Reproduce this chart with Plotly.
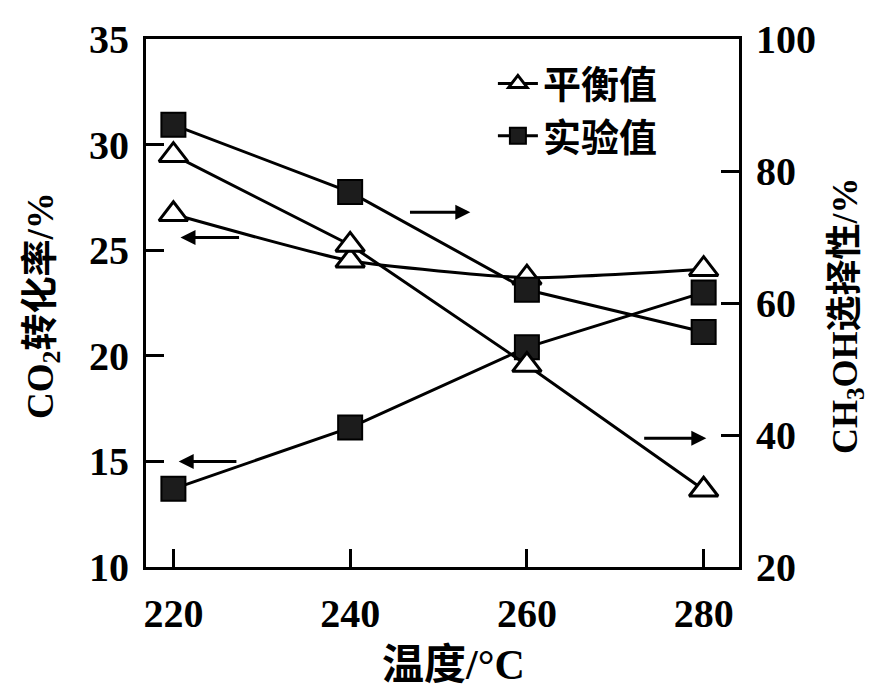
import plotly.graph_objects as go

# Reaction temperature (°C)
temps = [220, 240, 260, 280]

# CO2 conversion (%), left axis
eq_conv = [26.7, 24.5, 23.7, 24.1]
exp_conv = [13.7, 16.6, 20.4, 23.0]

# CH3OH selectivity (%), right axis
eq_sel = [82.4, 68.8, 50.6, 31.7]
exp_sel = [87.0, 76.8, 62.0, 55.6]

legend_eq = "平衡值"
legend_exp = "实验值"

x_ticks = [220, 240, 260, 280]
left_ticks = [10, 15, 20, 25, 30, 35]
right_ticks = [20, 40, 60, 80, 100]

num_font = dict(family="Liberation Serif", size=40, color="black", weight=700)
cjk_font = dict(family="Liberation Serif, Noto Sans CJK SC", size=37, color="black", weight=700)

tri = dict(symbol="triangle-up", size=25, color="white", line=dict(color="black", width=3))
sq = dict(symbol="square", size=24, color="#1c1c1c", line=dict(color="black", width=2))
ln = dict(color="black", width=3)

fig = go.Figure()
fig.add_trace(go.Scatter(x=temps, y=eq_conv, mode="lines+markers", name=legend_eq,
                         line=dict(**ln, shape="spline", smoothing=0.5), marker=tri,
                         showlegend=True, yaxis="y"))
fig.add_trace(go.Scatter(x=temps, y=exp_conv, mode="lines+markers", name=legend_exp,
                         line=ln, marker=sq, showlegend=False, yaxis="y"))
fig.add_trace(go.Scatter(x=temps, y=eq_sel, mode="lines+markers", name=legend_eq,
                         line=ln, marker=tri, showlegend=False, yaxis="y2"))
fig.add_trace(go.Scatter(x=temps, y=exp_sel, mode="lines+markers", name=legend_exp,
                         line=ln, marker=sq, showlegend=True, yaxis="y2"))

# arrows pointing to the axis each curve belongs to
arrows = [((227.6, 25.6), (220.8, 25.6)),
          ((227.3, 15.0), (220.6, 15.0)),
          ((246.6, 26.8), (253.6, 26.8)),
          ((273.1, 16.1), (280.3, 16.1))]
for (tx, ty), (hx, hy) in arrows:
    fig.add_annotation(x=hx, y=hy, ax=tx, ay=ty, xref="x", yref="y", axref="x", ayref="y",
                       text="", showarrow=True, arrowhead=2, arrowsize=1, arrowwidth=3,
                       arrowcolor="black", standoff=0, startstandoff=0)

fig.add_annotation(text="CO<sub>2</sub>转化率/%", xref="paper", yref="paper",
                   x=-0.174, y=0.496, xanchor="center", yanchor="middle",
                   textangle=-90, showarrow=False, font=cjk_font)
fig.add_annotation(text="CH<sub>3</sub>OH选择性/%", xref="paper", yref="paper",
                   x=1.182, y=0.477, xanchor="center", yanchor="middle",
                   textangle=-90, showarrow=False, font=dict(cjk_font, size=36))
fig.add_annotation(text="温度/°C", xref="paper", yref="paper",
                   x=0.518, y=-0.186, xanchor="center", yanchor="middle",
                   showarrow=False, font=dict(cjk_font, size=42))

axis_common = dict(showline=True, linecolor="black", linewidth=3, ticks="inside",
                   ticklen=18, tickwidth=3, tickcolor="black", showgrid=False,
                   zeroline=False, tickfont=num_font)

fig.update_layout(
    width=874, height=688,
    margin=dict(l=146, r=135, t=39, b=121),
    paper_bgcolor="white", plot_bgcolor="white",
    xaxis=dict(axis_common, range=[216.9, 284], tickvals=x_ticks, mirror=True,
               ticklabelstandoff=9),
    yaxis=dict(axis_common, range=[10, 35], tickvals=left_ticks, ticklabelstandoff=6),
    yaxis2=dict(axis_common, range=[20, 100], tickvals=right_ticks, overlaying="y",
                side="right", ticklabelstandoff=6),
    legend=dict(x=0.585, y=0.975, xanchor="left", yanchor="top", bgcolor="rgba(0,0,0,0)",
                font=dict(family="Liberation Serif, Noto Sans CJK SC", size=38,
                          color="black", weight=700),
                itemwidth=40, tracegroupgap=0),
)

fig.write_html("out.html")
